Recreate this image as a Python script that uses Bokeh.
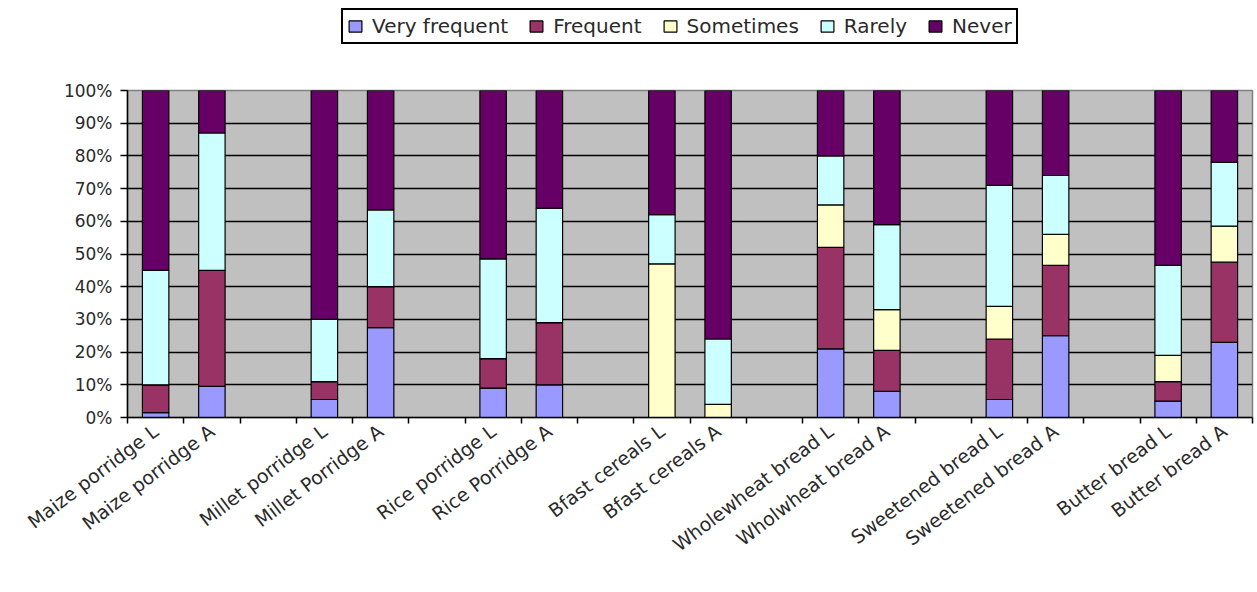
from bokeh.plotting import figure
from bokeh.layouts import column
from bokeh.models import (Range1d, FixedTicker, NumeralTickFormatter, Legend, LegendItem)
from bokeh.embed import file_html
from bokeh.resources import INLINE

# Category slots along the x axis; None leaves an empty slot between food pairs
slots = [
    "Maize porridge L", "Maize porridge A", None,
    "Millet porridge L", "Millet Porridge A", None,
    "Rice porridge L", "Rice Porridge A", None,
    "Bfast cereals L", "Bfast cereals A", None,
    "Wholewheat bread L", "Wholwheat bread A", None,
    "Sweetened bread L", "Sweetened bread A", None,
    "Butter bread L", "Butter bread A",
]

series = ["Very frequent", "Frequent", "Sometimes", "Rarely", "Never"]
colors = ["#9999FF", "#993366", "#FFFFCC", "#CCFFFF", "#660066"]

# Percent of respondents per frequency class, in the order of the named slots
very_frequent = [1.5, 9.5, 5.5, 27.5, 9, 10, 0, 0, 21, 8, 5.5, 25, 5, 23]
frequent = [8.5, 35.5, 5.5, 12.5, 9, 19, 0, 0, 31, 12.5, 18.5, 21.5, 6, 24.5]
sometimes = [0, 0, 0, 0, 0, 0, 47, 4, 13, 12.5, 10, 9.5, 8, 11]
rarely = [35, 42, 19, 23.5, 30.5, 35, 15, 20, 15, 26, 37, 18, 27.5, 19.5]
never = [55, 13, 70, 36.5, 51.5, 36, 38, 76, 20, 41, 29, 26, 53.5, 22]

y_ticks = [i / 10 for i in range(11)]

names = [s for s in slots if s]
xs = [i + 0.5 for i, s in enumerate(slots) if s]

source = {"x": xs}
for key, vals in zip(series, [very_frequent, frequent, sometimes, rarely, never]):
    source[key] = [v / 100 for v in vals]

TOP_H = 80
BAR_STYLE = dict(width=0.47, fill_color=colors, line_color="black", line_width=1.2)

p = figure(width=1257, height=592 - TOP_H, output_backend="svg", toolbar_location=None,
           x_range=Range1d(0, len(slots)), y_range=Range1d(0, 1),
           min_border_left=127, min_border_right=5, min_border_top=10,
           min_border_bottom=175)

p.border_fill_color = "white"

p.vbar_stack(series, x="x", source=source, **BAR_STYLE)

# plot area
p.background_fill_color = "#C0C0C0"
p.outline_line_color = "#808080"
p.outline_line_width = 1.5

p.xgrid.grid_line_color = None
p.ygrid.ticker = FixedTicker(ticks=y_ticks)
p.ygrid.grid_line_color = "black"
p.ygrid.grid_line_width = 1.3

# y axis
p.yaxis.ticker = FixedTicker(ticks=y_ticks)
p.yaxis.formatter = NumeralTickFormatter(format="0%")
p.yaxis.major_tick_out = 7
p.yaxis.major_tick_in = 0
p.yaxis.major_tick_line_width = 1.3
p.yaxis.minor_tick_line_color = None
p.yaxis.axis_line_color = "black"
p.yaxis.axis_line_width = 1.5
p.yaxis.major_label_text_font = "DejaVu Sans"
p.yaxis.major_label_text_font_size = "17px"
p.yaxis.major_label_text_color = "#2a2a2a"
p.yaxis.major_label_standoff = 8

# x axis: labels at slot centres, tick marks on slot boundaries
p.xaxis.ticker = FixedTicker(ticks=xs, minor_ticks=list(range(len(slots) + 1)))
p.xaxis.major_label_overrides = {x: n for x, n in zip(xs, names)}
p.xaxis.major_tick_out = 0
p.xaxis.major_tick_in = 0
p.xaxis.minor_tick_out = 6
p.xaxis.minor_tick_in = 0
p.xaxis.minor_tick_line_color = "black"
p.xaxis.minor_tick_line_width = 1.5
p.xaxis.axis_line_color = "black"
p.xaxis.axis_line_width = 1.5
p.xaxis.major_label_orientation = 0.65
p.xaxis.major_label_text_font = "DejaVu Sans"
p.xaxis.major_label_text_font_size = "19px"
p.xaxis.major_label_text_color = "#2a2a2a"
p.xaxis.major_label_standoff = 5

# legend strip above the chart; its stacks lie below the visible y range,
# so only the legend swatches show
top = figure(width=1257, height=TOP_H, output_backend="svg", toolbar_location=None,
             x_range=Range1d(0, len(slots)), y_range=Range1d(2, 3), min_border=0)
top.axis.visible = False
top.grid.grid_line_color = None
top.outline_line_color = None
top.background_fill_color = "white"
top.border_fill_color = "white"
swatches = top.vbar_stack(series, x="x", source=source, **BAR_STYLE)

legend = Legend(
    items=[LegendItem(label=s, renderers=[r]) for s, r in zip(series, swatches)],
    orientation="horizontal",
    location=(214, 36),
    label_text_font="DejaVu Sans",
    label_text_font_size="20px",
    label_text_color="#2a2a2a",
    glyph_width=16, glyph_height=14,
    label_standoff=9, spacing=20, padding=4, margin=0,
    border_line_color="black", border_line_width=2, border_line_alpha=1,
    background_fill_color="white", background_fill_alpha=1,
)
top.add_layout(legend, "center")

open("out.html", "w").write(file_html(column(top, p, spacing=0), INLINE))
